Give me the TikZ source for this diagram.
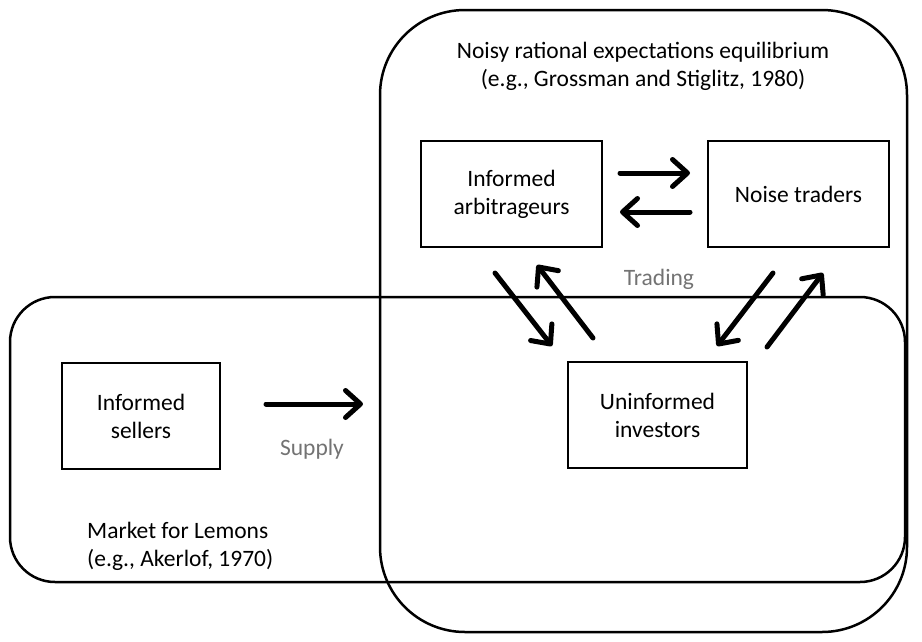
\documentclass[tikz,border=0pt]{standalone}
\usepackage{fontspec}
\setmainfont{Carlito}
\usetikzlibrary{arrows.meta}
\begin{document}
\begin{tikzpicture}[x=1pt,y=-1pt,
  every node/.style={font=\fontsize{23.5}{28}\selectfont, align=center, inner sep=0pt},
  region/.style={draw, line width=2.5pt},
  agent/.style={draw, line width=1.8pt},
  flow/.style={line width=5pt, line cap=round, -{Straight Barb[length=15pt,width=27pt,line cap=round,line join=round]}},
  lbl/.style={text=black!55}]
\useasboundingbox (0,0) rectangle (922,641);
% regions
\node[region, rounded corners=85pt, minimum width=527pt, minimum height=622pt] (nree) at (643.5,321) {};
\node[region, rounded corners=45pt, minimum width=895pt, minimum height=285pt] (lemons) at (457.5,439.5) {};
\node at (643,66) (nreet) {Noisy rational expectations equilibrium\\(e.g., Grossman and Stiglitz, 1980)};
\node[anchor=west, align=left] at (87,546) (lemt) {Market for Lemons\\(e.g., Akerlof, 1970)};
% agents
\node[agent, minimum width=181pt, minimum height=106pt] (arb) at (511.5,194) {Informed\\arbitrageurs};
\node[agent, minimum width=181pt, minimum height=106pt] (noise) at (798.5,194) {Noise traders};
\node[agent, minimum width=158pt, minimum height=106pt] (sell) at (141,416) {Informed\\sellers};
\node[agent, minimum width=179pt, minimum height=106pt] (uninf) at (657.5,415) {Uninformed\\investors};
% labels
\node[lbl] (trading) at (659,279) {Trading};
\node[lbl] (supply) at (312,449) {Supply};
% arrow end points
\coordinate (a1s) at (620,173); \coordinate (a1e) at (690,173);
\coordinate (a2s) at (690,212); \coordinate (a2e) at (620,212);
\coordinate (a3s) at (495,273); \coordinate (a3e) at (552,346);
\coordinate (a4s) at (593,338); \coordinate (a4e) at (537,265);
\coordinate (a5s) at (773,273); \coordinate (a5e) at (717,346);
\coordinate (a6s) at (767,347); \coordinate (a6e) at (823,273);
\coordinate (a7s) at (266,404); \coordinate (a7e) at (363,404);
\foreach \i in {1,...,7} {\draw[flow] (a\i s) -- (a\i e);}
\end{tikzpicture}
\end{document}
